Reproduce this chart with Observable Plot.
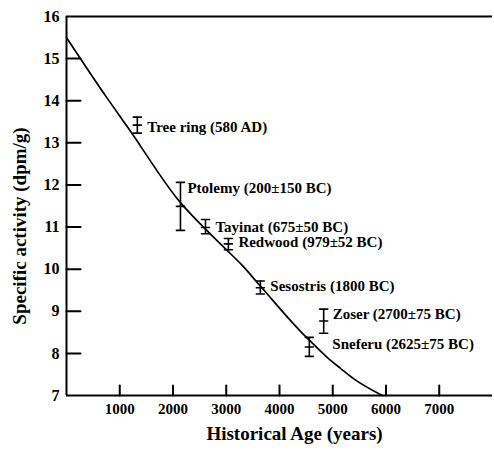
<!DOCTYPE html>
<html>
<head>
<meta charset="utf-8">
<script src="https://cdn.jsdelivr.net/npm/d3@7"></script>
<script src="https://cdn.jsdelivr.net/npm/@observablehq/plot@0.6"></script>
<style>
  body { margin: 0; background: #fff; }
  #chart svg text { font-family: "Liberation Serif", "Times New Roman", serif !important; font-weight: bold; }
</style>
</head>
<body>
<div id="chart"></div>
<script>
// Samples of known age and their measured carbon-14 specific activity
const sampleNames = ["Tree ring", "Ptolemy", "Tayinat", "Redwood", "Sesostris", "Zoser", "Sneferu"];
const sampleLabels = [
  "Tree ring (580 AD)",
  "Ptolemy (200±150 BC)",
  "Tayinat (675±50 BC)",
  "Redwood (979±52 BC)",
  "Sesostris (1800 BC)",
  "Zoser (2700±75 BC)",
  "Sneferu (2625±75 BC)"
];
const sampleAges = [1330, 2140, 2610, 3040, 3640, 4830, 4560];   // years
const activityMid = [13.42, 11.49, 10.99, 10.60, 9.56, 8.77, 8.15]; // dpm/g
const activityLow = [13.23, 10.92, 10.84, 10.46, 9.41, 8.48, 7.93];
const activityHigh = [13.61, 12.06, 11.18, 10.73, 9.72, 9.05, 8.38];

// Decay curve
const curveAges = [0, 770, 1150, 2140, 2610, 3020, 3270, 3640, 4390, 4580, 4900, 5150, 5390, 5930];
const curveActivity = [15.50, 14.05, 13.37, 11.58, 10.95, 10.44, 10.13, 9.60, 8.53, 8.29, 7.90, 7.64, 7.40, 7.00];

const xTickValues = [1000, 2000, 3000, 4000, 5000, 6000, 7000];
const yTickValues = [7, 8, 9, 10, 11, 12, 13, 14, 15, 16];

const samples = sampleNames.map((name, i) => ({
  name, label: sampleLabels[i], age: sampleAges[i],
  mid: activityMid[i], low: activityLow[i], high: activityHigh[i]
}));
const curve = curveAges.map((age, i) => ({age, activity: curveActivity[i]}));

// A plain stroke of the vector's length
const stroke = {draw(context, l) { context.moveTo(0, 0); context.lineTo(0, -l); }};

// Where each sample's label sits relative to its error bar (pixels)
const labelNudge = {
  "Tree ring": [10, 2], "Ptolemy": [7, -18], "Tayinat": [10, 0], "Redwood": [10, -2],
  "Sesostris": [10, -2], "Zoser": [9, -7], "Sneferu": [23, -3]
};

const serif = "Liberation Serif";

const chart = Plot.plot({
  width: 494,
  height: 450,
  marginLeft: 66,
  marginRight: 2,
  marginTop: 16,
  marginBottom: 55,
  x: {domain: [0, 8000]},
  y: {domain: [7, 16]},
  marks: [
    // frame: left, bottom and top lines
    Plot.ruleX([0], {strokeWidth: 2}),
    Plot.ruleY([7], {strokeWidth: 2}),
    Plot.ruleY([16], {strokeWidth: 2}),
    // inward ticks
    Plot.vector(yTickValues.slice(1, -1), {y: d => d, frameAnchor: "left", rotate: 90, length: 14, anchor: "start", shape: stroke, strokeWidth: 2}),
    Plot.vector(xTickValues, {x: d => d, frameAnchor: "bottom", rotate: 0, length: 10, anchor: "start", shape: stroke, strokeWidth: 2}),
    Plot.axisY(yTickValues, {tickSize: 0, tickPadding: 7, fontSize: 16, fontFamily: serif, fontWeight: "bold", fill: "#000", label: null}),
    Plot.axisX(xTickValues, {tickSize: 0, tickPadding: 8, fontSize: 15, fontFamily: serif, fontWeight: "bold", fill: "#000", tickFormat: "d", label: null}),
    // decay curve
    Plot.line(curve, {x: "age", y: "activity", stroke: "#000", strokeWidth: 1.7, curve: "monotone-x"}),
    // error bars with caps and centre marks
    Plot.ruleX(samples, {x: "age", y1: "low", y2: "high", strokeWidth: 1.6}),
    Plot.vector(samples, {x: "age", y: "high", rotate: 90, length: 8, anchor: "middle", shape: stroke, strokeWidth: 1.6}),
    Plot.vector(samples, {x: "age", y: "low", rotate: 90, length: 8, anchor: "middle", shape: stroke, strokeWidth: 1.6}),
    Plot.vector(samples, {x: "age", y: "mid", rotate: 90, length: 8, anchor: "middle", shape: stroke, strokeWidth: 1.6}),
    // sample labels
    ...samples.map(s => Plot.text([s], {
      x: "age", y: "mid", text: "label", textAnchor: "start", lineAnchor: "middle",
      dx: labelNudge[s.name][0], dy: labelNudge[s.name][1],
      fontSize: 15, fontFamily: serif, fontWeight: "bold", fill: "#000"
    })),
    // axis titles
    Plot.text(["Historical Age (years)"], {
      frameAnchor: "bottom", textAnchor: "middle", lineAnchor: "middle", dx: 15, dy: 38,
      fontSize: 19, fontFamily: serif, fontWeight: "bold", fill: "#000"
    }),
    Plot.text(["Specific activity (dpm/g)"], {
      frameAnchor: "left", textAnchor: "middle", lineAnchor: "middle", rotate: -90, dx: -47, dy: 20,
      fontSize: 19, fontFamily: serif, fontWeight: "bold", fill: "#000"
    })
  ]
});

document.getElementById("chart").append(chart);
</script>
</body>
</html>
